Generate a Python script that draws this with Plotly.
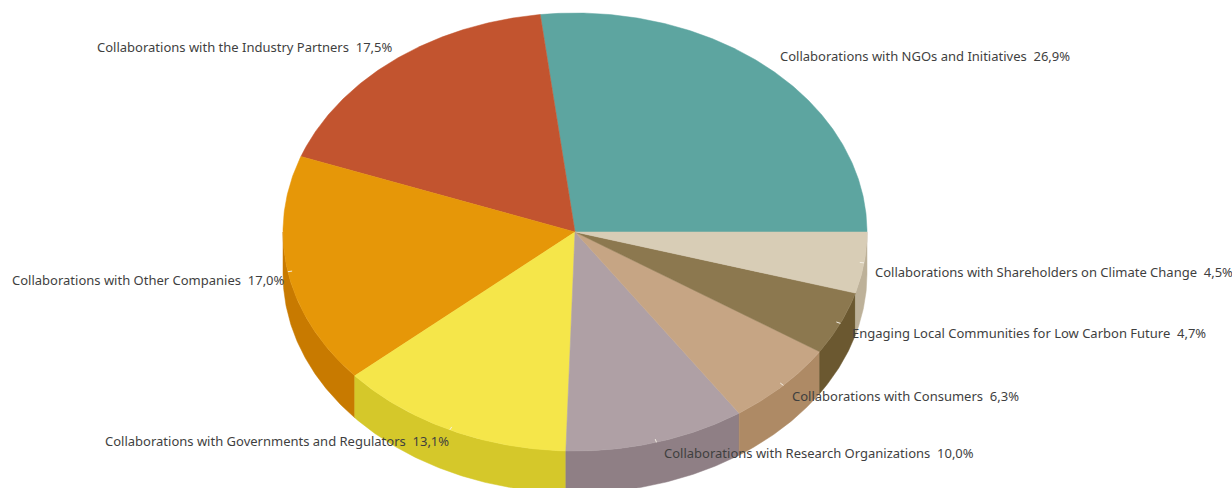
import numpy as np
import plotly.graph_objects as go

# Share of each collaboration type, in percent, counter-clockwise from 3 o'clock
categories = [
    "Collaborations with NGOs and Initiatives",
    "Collaborations with the Industry Partners",
    "Collaborations with Other Companies",
    "Collaborations with Governments and Regulators",
    "Collaborations with Research Organizations",
    "Collaborations with Consumers",
    "Engaging Local Communities for Low Carbon Future",
    "Collaborations with Shareholders on Climate Change",
]
shares = [26.9, 17.5, 17.0, 13.1, 10.0, 6.3, 4.7, 4.5]
share_labels = ["26,9%", "17,5%", "17,0%", "13,1%", "10,0%", "6,3%", "4,7%", "4,5%"]

top_colors = ["#5DA5A0", "#C2542F", "#E69708", "#F5E64A", "#AFA0A5", "#C6A584", "#8C784F", "#D8CDB6"]
side_colors = ["#4A8480", "#9B4326", "#C87A00", "#D5C82A", "#8F7F85", "#AE8A65", "#6B5830", "#BDB199"]

# Label anchors in page pixels (left edge, vertical middle)
label_x = [778, 95, 10, 103, 662, 790, 850, 873]
label_y = [56, 47, 280, 441, 453, 396, 333, 272]

WIDTH, HEIGHT = 1232, 488
CX, CY, RX, RY = 575, 232, 292, 219  # disc centre and radii on the page
DEPTH = 42 / RY                      # wall height in disc units
FONT = "Noto Sans"

def arc(a0, a1):
    t = np.radians(np.linspace(a0, a1, max(int(abs(a1 - a0) * 2), 2)))
    return np.cos(t), np.sin(t)

edges = np.cumsum([0] + shares) / sum(shares) * 360
fig = go.Figure()

# Side walls: only the front half of the disc shows its rim
for i, color in enumerate(side_colors):
    a0, a1 = max(edges[i], 180), edges[i + 1]
    if a1 <= 180:
        continue
    x, y = arc(a0, a1)
    fig.add_trace(go.Scatter(
        x=np.r_[x, x[::-1], x[0]],
        y=np.r_[y, y[::-1] - DEPTH, y[0]],
        mode="lines", fill="toself", fillcolor=color,
        line=dict(color=color, width=0.5), hoverinfo="skip",
    ))

# Top face wedges, plus the small white stub at the middle of each arc
for i, (name, color) in enumerate(zip(categories, top_colors)):
    x, y = arc(edges[i], edges[i + 1])
    fig.add_trace(go.Scatter(
        x=np.r_[0, x, 0], y=np.r_[0, y, 0],
        mode="lines", fill="toself", fillcolor=color,
        line=dict(color=color, width=0.5),
        name=name, text=share_labels[i], hoverinfo="name+text",
    ))
for i in range(2, len(shares)):
    mid = np.radians((edges[i] + edges[i + 1]) / 2)
    fig.add_trace(go.Scatter(
        x=[np.cos(mid), 0.985 * np.cos(mid)], y=[np.sin(mid), 0.985 * np.sin(mid)],
        mode="lines", line=dict(color="#F4EFE4", width=1), hoverinfo="skip",
    ))

annotations = [
    dict(
        text=f"{name}\u00a0\u00a0{label}",
        x=px / WIDTH, y=1 - py / HEIGHT, xref="paper", yref="paper",
        xanchor="left", yanchor="middle", showarrow=False, align="left",
        font=dict(family=FONT, size=13, color="#3F3F3F"),
    )
    for name, label, px, py in zip(categories, share_labels, label_x, label_y)
]

fig.update_layout(
    width=WIDTH, height=HEIGHT, showlegend=False,
    margin=dict(l=0, r=0, t=0, b=0),
    paper_bgcolor="white", plot_bgcolor="white",
    annotations=annotations,
    xaxis=dict(range=[-CX / RX, (WIDTH - CX) / RX], visible=False, fixedrange=True),
    yaxis=dict(range=[(CY - HEIGHT) / RY, CY / RY], visible=False, fixedrange=True),
)
fig.write_html("out.html", config={"displayModeBar": False})
